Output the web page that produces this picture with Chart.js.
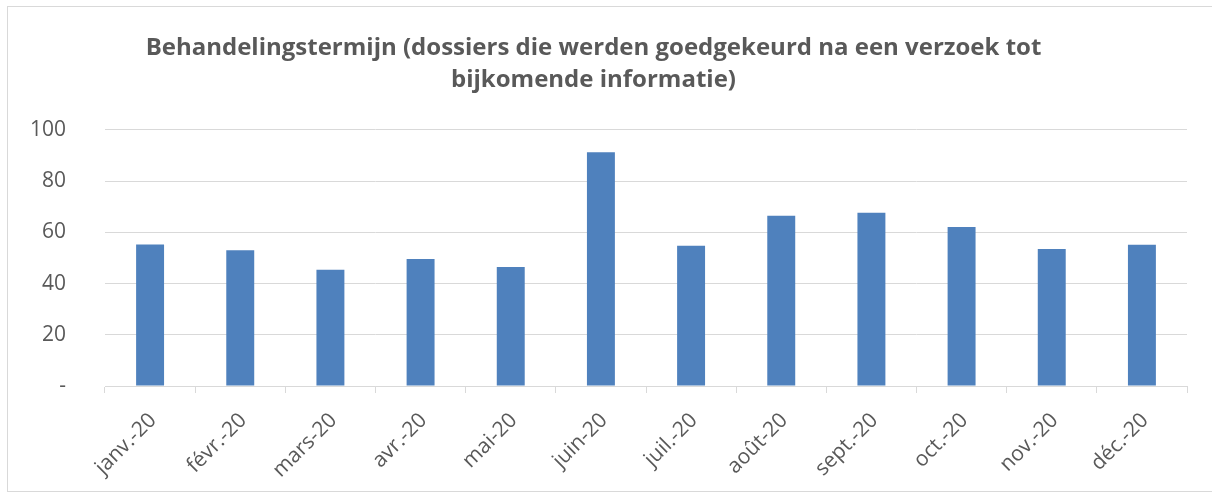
<!DOCTYPE html>
<html>
<head>
<meta charset="utf-8">
<script src="https://cdn.jsdelivr.net/npm/chart.js@4/dist/chart.umd.min.js"></script>
<style>
  html, body { margin: 0; padding: 0; background: #ffffff; }
  #wrap { position: relative; width: 1212px; height: 494px; overflow: hidden; }
  #frame { position: absolute; left: 7px; top: 6px; width: 1220px; height: 486px; border: 1px solid #d9d9d9; box-sizing: border-box; }
  canvas { position: absolute; left: 0; top: 0; }
</style>
</head>
<body>
<div id="wrap">
  <div id="frame"></div>
  <canvas id="c" width="1212" height="494"></canvas>
</div>
<script>
const categories = ['janv.-20','févr.-20','mars-20','avr.-20','mai-20','juin-20','juil.-20','août-20','sept.-20','oct.-20','nov.-20','déc.-20'];
const values = [55.3, 53.0, 45.4, 49.6, 46.5, 91.3, 54.8, 66.5, 67.7, 62.1, 53.5, 55.2];
const yTicks = [0, 20, 40, 60, 80, 100];
const titleLines = ['Behandelingstermijn (dossiers die werden goedgekeurd na een verzoek tot', 'bijkomende informatie)'];

const FONT = "'Open Sans', 'Noto Sans', sans-serif";
const GREY = '#595959';

new Chart(document.getElementById('c'), {
  type: 'bar',
  data: {
    labels: categories,
    datasets: [{
      data: values,
      backgroundColor: '#4f81bd',
      borderWidth: 0,
      barPercentage: 0.31,
      categoryPercentage: 1.0
    }]
  },
  options: {
    responsive: false,
    animation: false,
    layout: { padding: { left: 0, right: 25, top: 0, bottom: 0 } },
    plugins: {
      legend: { display: false },
      tooltip: { enabled: false },
      title: {
        display: true,
        text: titleLines,
        color: GREY,
        font: { family: FONT, size: 24, weight: 'bold', lineHeight: 1.3333 },
        padding: { top: 32, bottom: 34 }
      }
    },
    scales: {
      x: {
        offset: true,
        grid: { offset: true, drawOnChartArea: false, color: '#d9d9d9', tickLength: 7, lineWidth: 1 },
        border: { color: '#d9d9d9', width: 1 },
        ticks: {
          color: GREY,
          font: { family: FONT, size: 21 },
          minRotation: 45, maxRotation: 45,
          autoSkip: false,
          padding: 15,
          labelOffset: 3
        },
        afterFit(scale) { scale.height = 108; }
      },
      y: {
        min: 0, max: 100,
        afterBuildTicks(scale) { scale.ticks = yTicks.map(v => ({ value: v })); },
        grid: { color: '#d9d9d9', lineWidth: 1, drawTicks: false },
        border: { display: false },
        ticks: {
          color: GREY,
          font: { family: FONT, size: 21 },
          padding: 39,
          callback: (v) => v === 0 ? '-' : v
        },
        afterFit(scale) { scale.width = 105; }
      }
    }
  }
});
</script>
</body>
</html>
